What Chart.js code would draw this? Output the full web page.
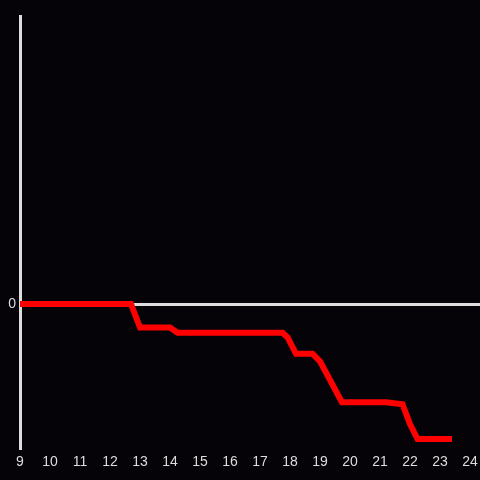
<!DOCTYPE html>
<html>
<head>
<meta charset="utf-8">
<script src="https://cdn.jsdelivr.net/npm/chart.js@4/dist/chart.umd.min.js"></script>
<style>
 html, body { margin: 0; padding: 0; background: #050307; }
 #wrap { width: 480px; height: 480px; }
</style>
</head>
<body>
<div id="wrap"><canvas id="c" width="480" height="480"></canvas></div>
<script>
// hours of the day (x) and the value (y)
const hours = [9, 12.7, 13.0, 14.0, 14.25, 17.75, 17.92, 18.2, 18.75, 19.0, 19.73, 21.2, 21.75, 22.0, 22.25, 23.3];
const values = [0, 0, -0.163, -0.163, -0.2, -0.2, -0.232, -0.346, -0.346, -0.398, -0.682, -0.682, -0.696, -0.834, -0.938, -0.938];
const xTicks = [9, 10, 11, 12, 13, 14, 15, 16, 17, 18, 19, 20, 21, 22, 23, 24];
const yTicks = [0];

const bg = {
 id: 'bg',
 beforeDraw(chart) {
  const ctx = chart.ctx;
  ctx.save();
  ctx.fillStyle = '#050307';
  ctx.fillRect(0, 0, chart.width, chart.height);
  ctx.restore();
 }
};

new Chart(document.getElementById('c').getContext('2d'), {
 type: 'line',
 data: {
  datasets: [{
   data: hours.map((h, i) => ({x: h, y: values[i]})),
   borderColor: '#ff0000',
   borderWidth: 6,
   borderCapStyle: 'square',
   pointRadius: 0,
   tension: 0,
   fill: false
  }]
 },
 options: {
  responsive: false,
  animation: false,
  layout: { padding: { top: 16, right: 0, left: 0, bottom: 0 } },
  plugins: { legend: { display: false }, tooltip: { enabled: false } },
  scales: {
   x: {
    type: 'linear',
    min: 9,
    max: 24.333,
    afterBuildTicks: s => { s.ticks = xTicks.map(v => ({value: v})); },
    afterFit: s => { s.height = 32; s.paddingLeft = 0; s.paddingRight = 0; },
    grid: { display: false, drawTicks: false },
    border: { display: false },
    ticks: { color: '#dddddd', font: { size: 14 }, padding: 6, maxRotation: 0, autoSkip: false }
   },
   y: {
    min: -1,
    max: 2,
    afterBuildTicks: s => { s.ticks = yTicks.map(v => ({value: v})); },
    afterFit: s => { s.width = 20; s.paddingTop = 0; s.paddingBottom = 0; },
    grid: { color: '#dddddd', lineWidth: 3, drawTicks: false },
    border: { display: true, color: '#dddddd', width: 3 },
    ticks: { color: '#dddddd', font: { size: 14 }, padding: 4 }
   }
  }
 },
 plugins: [bg]
});
</script>
</body>
</html>
